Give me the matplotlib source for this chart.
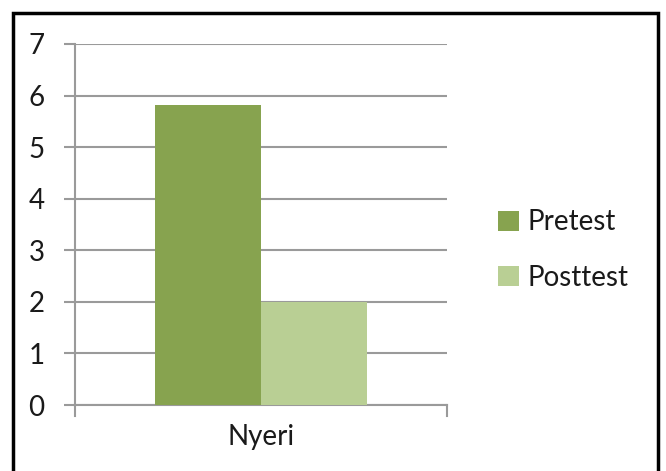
import matplotlib
matplotlib.use("Agg")
import matplotlib.pyplot as plt
from matplotlib.patches import Rectangle, Patch

categories = ["Nyeri"]
series_names = ["Pretest", "Posttest"]
pretest = [5.82]
posttest = [2.0]
y_ticks = [0, 1, 2, 3, 4, 5, 6, 7]
colors = ["#87A34F", "#B9CF94"]

plt.rcParams['font.family'] = ['Lato', 'DejaVu Sans']

fig = plt.figure(figsize=(6.66, 4.71), dpi=100)
W, H = 666, 471
ax = fig.add_axes([75 / W, 1 - 405 / H, 372 / W, 361 / H])

x = [0]
bw = 0.285
ax.bar([xi - bw / 2 for xi in x], pretest, width=bw, color=colors[0], label=series_names[0], zorder=3)
ax.bar([xi + bw / 2 for xi in x], posttest, width=bw, color=colors[1], label=series_names[1], zorder=3)

ax.set_xlim(-0.5, 0.5)
ax.set_ylim(0, 7)
ax.set_yticks(y_ticks)
ax.set_yticklabels([str(t) for t in y_ticks])
ax.set_xticks([0])
ax.set_xticklabels(categories)
ax.grid(axis='y', color='#9A9A9A', linewidth=1.5, zorder=0)
ax.set_axisbelow(True)
for s in ['top', 'right']:
    ax.spines[s].set_visible(False)
ax.spines['left'].set_color('#9A9A9A')
ax.spines['bottom'].set_color('#9A9A9A')
ax.spines['left'].set_linewidth(1.5)
ax.spines['bottom'].set_linewidth(1.5)
ax.tick_params(axis='y', length=8, width=1.5, color='#9A9A9A', labelsize=20, pad=14, labelcolor='#1a1a1a')
ax.tick_params(axis='x', length=0, labelsize=20, pad=14, labelcolor='#1a1a1a')
# end ticks on x-axis
for xv in [-0.5, 0.5]:
    ax.plot([xv, xv], [0, -0.22], color='#9A9A9A', linewidth=1.5, clip_on=False, zorder=4)

handles = [Patch(facecolor=c, label=n) for c, n in zip(colors, series_names)]
fig.legend(handles=handles, loc='center left', bbox_to_anchor=(473 / W, 1 - 250 / H),
           frameon=False, fontsize=20, handlelength=0.75, handleheight=0.75,
           handletextpad=0.3, labelspacing=1.05, labelcolor='#1a1a1a')

fig.patches.append(Rectangle((13 / W, -0.01), (658 - 13) / W, 1 - 13 / H + 0.01,
                             transform=fig.transFigure, fill=False, edgecolor='black',
                             linewidth=2.5, zorder=10))

fig.savefig("out.png", dpi=100)
